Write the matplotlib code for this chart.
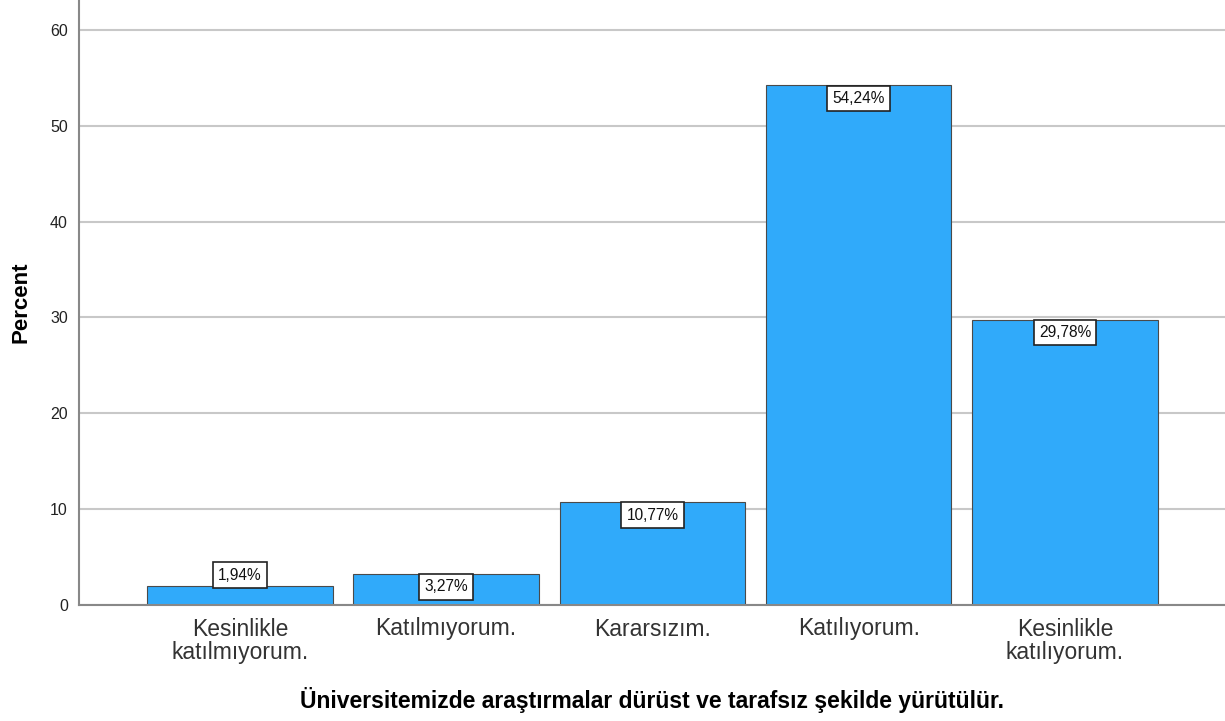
import matplotlib
matplotlib.use('agg')
import matplotlib.pyplot as plt
import numpy as np

plt.rcParams['font.family'] = ['Liberation Sans', 'DejaVu Sans']

categories = ['Kesinlikle\nkatılmıyorum.', 'Katılmıyorum.', 'Kararsızım.',
              'Katılıyorum.', 'Kesinlikle\nkatılıyorum.']
percents = [1.94, 3.27, 10.77, 54.24, 29.78]
labels = ['1,94%', '3,27%', '10,77%', '54,24%', '29,78%']

fig = plt.figure(figsize=(12.25, 7.21), dpi=100)
ax = fig.add_axes([79/1225, 116/721, 1 - 79/1225, 605/721])

x = np.arange(len(categories))
ax.set_axisbelow(True)
ax.yaxis.grid(True, color='#c8c8c8', linewidth=1.5)
bars = ax.bar(x, percents, width=0.9, color='#30aafa', edgecolor='#4a4a4a', linewidth=0.8)

box = dict(boxstyle='square,pad=0.33', fc='white', ec='#222222', lw=1.2)
for xi, val, lab in zip(x, percents, labels):
    if val < 3:
        ax.text(xi, val + 0.4, lab, ha='center', va='bottom', fontsize=11.2,
                color='#111111', bbox=box)
    else:
        ax.text(xi, val - 0.6, lab, ha='center', va='top', fontsize=11.2,
                color='#111111', bbox=box)

ax.set_xlim(-0.78, 4.776)
ax.set_ylim(0, 63.13)
ax.set_yticks([0, 10, 20, 30, 40, 50, 60])
ax.set_xticks(x)
ax.set_xticklabels(categories, fontsize=16.5, color='#333333', linespacing=1.0)
ax.tick_params(axis='both', length=0)
ax.tick_params(axis='y', labelsize=11.5, pad=8, labelcolor='#222222')
ax.tick_params(axis='x', pad=9)

for s in ['top', 'right']:
    ax.spines[s].set_visible(False)
for s in ['left', 'bottom']:
    ax.spines[s].set_color('#888888')
    ax.spines[s].set_linewidth(1.5)

ax.set_ylabel('Percent', fontsize=16, fontweight='bold', labelpad=13)
ax.set_xlabel('Üniversitemizde araştırmalar dürüst ve tarafsız şekilde yürütülür.',
              fontsize=16.5, fontweight='bold', labelpad=17)

plt.savefig('out.png', dpi=100)
